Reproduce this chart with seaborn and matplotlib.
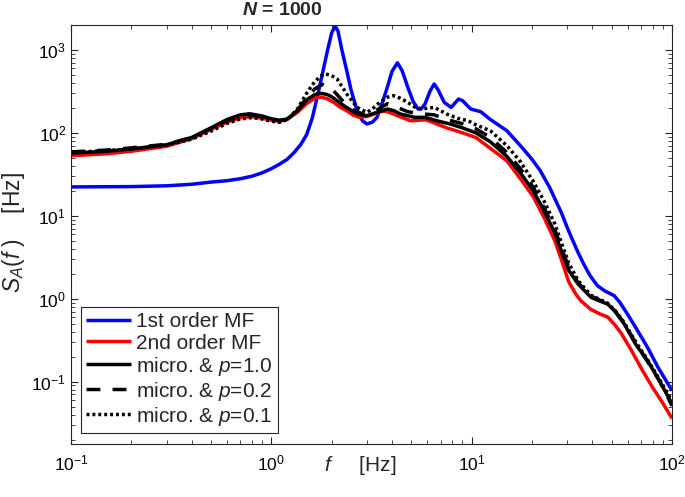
import numpy as np
import pandas as pd
import matplotlib
matplotlib.use("Agg")
import matplotlib.pyplot as plt
import seaborn as sns

# ---------------- data ----------------
f_blue = [0.1, 0.2, 0.3, 0.4, 0.5, 0.6, 0.7, 0.8, 0.9, 1.0, 1.1, 1.2, 1.3, 1.4, 1.5, 1.6, 1.7, 1.8,
          1.9, 2.0, 2.08, 2.15, 2.25, 2.38, 2.5, 2.68, 2.85, 3.0, 3.2, 3.37, 3.6, 3.79, 4.0, 4.26,
          4.5, 4.8, 5.1, 5.4, 5.6, 5.85, 6.2, 6.5, 6.8, 7.3, 7.9, 8.6, 9.0, 9.9, 11.1, 12.4, 15,
          18, 20, 22, 24.5, 26.3, 28, 30, 32, 34, 36.3, 39, 42.4, 46, 51.4, 55, 60, 67, 75.4, 85, 100]
s_blue = [22.3, 22.5, 23, 24, 25.5, 26.5, 28, 30, 33, 37, 42, 48, 58, 72, 95, 150, 280, 520,
          950, 1600, 1950, 1700, 1000, 560, 330, 185, 140, 128, 135, 154, 240, 354, 550, 700,
          560, 354, 240, 194, 195, 223, 320, 389, 330, 233, 203, 256, 245, 194, 180, 145, 106,
          65, 48, 35, 22, 15.2, 11, 7.2, 5.0, 3.6, 2.6, 1.9, 1.44, 1.25, 1.09, 0.9, 0.65, 0.42,
          0.26, 0.15, 0.078]

f_red = [0.1, 0.15, 0.2, 0.3, 0.4, 0.5, 0.6, 0.7, 0.8, 0.9, 1.0, 1.1, 1.2, 1.35, 1.5, 1.65, 1.77,
         1.9, 2.05, 2.2, 2.38, 2.55, 2.75, 3.0, 3.26, 3.5, 3.73, 4.0, 4.26, 4.6, 4.95, 5.4, 5.85,
         6.2, 6.7, 7.5, 8.9, 10.5, 12.4, 15, 17.5, 20.3, 23, 26, 28, 30.5, 33, 35, 39.4, 44,
         47.8, 52, 55.9, 62, 70.8, 80, 90, 100]
s_red = [53, 56, 60, 69, 85, 110, 135, 152, 157, 150, 142, 138, 145, 177, 225, 262, 270,
         258, 233, 205, 185, 165, 154, 158, 169, 180, 183, 172, 161, 150, 140, 142, 144,
         138, 128, 115, 101, 88, 65, 46, 28, 17, 9.5, 5.0, 3.0, 1.6, 1.15, 0.95, 0.74, 0.65,
         0.6, 0.48, 0.38, 0.25, 0.14, 0.085, 0.055, 0.036]

f_p10 = [0.1, 0.15, 0.2, 0.3, 0.4, 0.5, 0.6, 0.7, 0.78, 0.9, 1.0, 1.1, 1.2, 1.35, 1.52, 1.65,
         1.77, 1.9, 2.0, 2.3, 2.68, 3.0, 3.37, 3.79, 4.1, 4.4, 5.2, 5.85, 6.7, 7.8, 8.9, 10.5,
         12.4, 15, 17.5, 20.3, 23, 26, 28, 30.5, 34, 39.4, 44, 47.8, 52, 57.6, 66, 75.4, 87, 100]
s_p10 = [57, 60, 64, 72, 88, 115, 145, 165, 170, 160, 148, 142, 147, 185, 256, 290,
         300, 290, 273, 213, 169, 161, 177, 194, 185, 169, 154, 154, 140, 128, 116, 100,
         78, 52, 33, 20, 11.5, 6.2, 3.8, 2.2, 1.5, 1.04, 0.93, 0.86, 0.7, 0.5, 0.28, 0.18,
         0.1, 0.054]

f_p02 = [0.1, 0.15, 0.2, 0.3, 0.4, 0.5, 0.6, 0.7, 0.8, 0.9, 1.0, 1.1, 1.2, 1.35, 1.5, 1.65, 1.8,
         1.95, 2.1, 2.3, 2.6, 2.9, 3.2, 3.5, 3.8, 4.2, 4.8, 5.6, 6.5, 7.5, 8.9, 10.5, 12.4, 15,
         17.5, 20.3, 23, 26, 28, 30.5, 34, 39.4, 44, 47.8, 52, 57.6, 66, 75.4, 87, 100]
s_p02 = [59, 62, 66, 73, 88, 113, 140, 158, 165, 157, 146, 140, 146, 188, 265, 340, 385,
         360, 300, 235, 185, 167, 175, 200, 225, 205, 180, 170, 165, 145, 130, 112, 88, 58,
         37, 22, 12.5, 6.8, 4.2, 2.4, 1.55, 1.08, 0.95, 0.87, 0.71, 0.51, 0.29, 0.175, 0.1, 0.051]

f_p01 = [0.1, 0.15, 0.2, 0.3, 0.4, 0.5, 0.6, 0.7, 0.8, 0.9, 1.0, 1.1, 1.2, 1.35, 1.5, 1.6, 1.75,
         1.87, 2.0, 2.13, 2.38, 2.68, 3.0, 3.2, 3.47, 3.8, 4.07, 4.4, 4.8, 5.2, 5.6, 6.0, 6.5,
         7.0, 7.5, 8.5, 9.6, 10.5, 12.4, 15, 17.5, 20.3, 23, 26, 28, 30.5, 34, 39.4, 44, 47.8,
         52, 57.6, 66, 75.4, 87, 100]
s_p01 = [58, 61, 64, 71, 84, 105, 130, 147, 153, 147, 138, 134, 145, 194, 300, 380, 480,
         513, 490, 447, 294, 203, 177, 195, 233, 270, 281, 262, 233, 205, 194, 198, 203,
         185, 169, 150, 140, 125, 106, 70, 45, 26, 15, 8, 4.8, 2.7, 1.65, 1.1, 0.97, 0.88,
         0.72, 0.52, 0.3, 0.185, 0.105, 0.058]

labels = ["1st order MF", "2nd order MF",
          r"micro. & $p$=1.0", r"micro. & $p$=0.2", r"micro. & $p$=0.1"]
x_ticks = [0.1, 1, 10, 100]
y_ticks = [0.1, 1, 10, 100, 1000]

# ---------------- style ----------------
sns.set_style("ticks")
plt.rcParams["font.family"] = ["Liberation Sans", "DejaVu Sans"]
plt.rcParams["mathtext.fontset"] = "custom"
plt.rcParams["mathtext.rm"] = "Liberation Sans"
plt.rcParams["mathtext.it"] = "Liberation Sans:italic"
plt.rcParams["mathtext.bf"] = "Liberation Sans:bold"
plt.rcParams["mathtext.bfit"] = "Liberation Sans:italic:bold"
plt.rcParams["mathtext.sf"] = "Liberation Sans"

fig = plt.figure(figsize=(6.85, 4.97), dpi=100)
ax = fig.add_axes([71 / 685, 1 - 444 / 497, (672 - 71) / 685, (444 - 25) / 497])

lw = 2.5
series = [
    (f_blue, s_blue, "#0000ff", (0, ()), labels[0]),
    (f_red, s_red, "#ff0000", (0, ()), labels[1]),
    (f_p10, s_p10, "black", (0, ()), labels[2]),
    (f_p02, s_p02, "black", (0, (4.0, 3.5)), labels[3]),
    (f_p01, s_p01, "black", (0, (0.85, 0.85)), labels[4]),
]
for fx, sy, col, ls, lab in series:
    df = pd.DataFrame({"f": fx, "S": sy})
    sns.lineplot(data=df, x="f", y="S", ax=ax, color=col, linewidth=lw,
                 linestyle=ls, label=lab, sort=False, estimator=None)

ax.set_xscale("log")
ax.set_yscale("log")
ax.set_xlim(0.1, 100)
ax.set_ylim(0.0177, 2000)
ax.set_xticks(x_ticks)
ax.set_yticks(y_ticks)

ax.tick_params(which="both", direction="in", top=True, right=True, colors="0.15",
               labelcolor="black", labelsize=12.5)
ax.tick_params(which="major", length=5, width=0.8)
ax.tick_params(which="minor", length=3, width=0.6)
ax.tick_params(axis="x", which="major", pad=7)
for sp in ax.spines.values():
    sp.set_visible(True)
    sp.set_color("0.15")
    sp.set_linewidth(0.8)

ax.set_xlabel(r"$f$" + "     [Hz]", fontsize=15)
ax.xaxis.set_label_coords(0.481, -0.024)
ax.set_ylabel(r"$S_A(f\ )$" + "    [Hz]", fontsize=16.5)
ax.yaxis.set_label_coords(-0.074, 0.504)

fig.text(282 / 685, 1 - 10.5 / 497, r"$\mathbfit{N}$ = 1000", ha="center", va="center",
         fontsize=14, fontweight="bold")

leg = ax.legend(loc="lower left", bbox_to_anchor=((81 - 71) / 601, (444 - 433) / 419),
                fontsize=15, frameon=True, fancybox=False, handlelength=2.15,
                handletextpad=0.25, labelspacing=0.1, borderpad=0.25, borderaxespad=0)
leg.get_frame().set_edgecolor("0.15")
leg.get_frame().set_linewidth(0.8)
leg.get_frame().set_alpha(1)

fig.savefig("out.png", dpi=100)
